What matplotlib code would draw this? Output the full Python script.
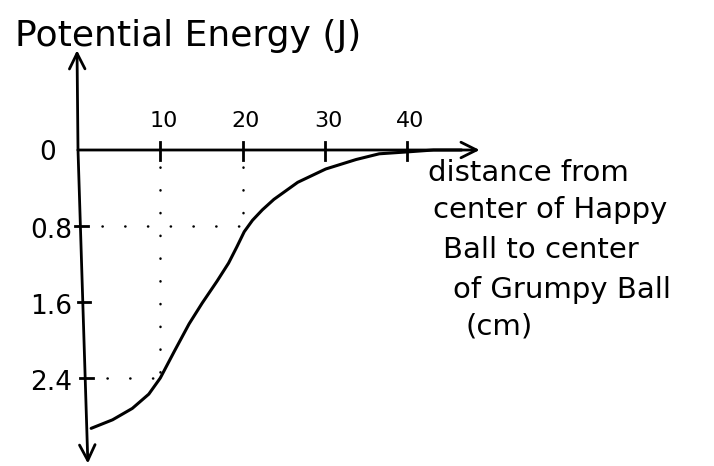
import numpy as np
import matplotlib
matplotlib.use("Agg")
import matplotlib.pyplot as plt

# Values (energy drawn downward, labels positive)
distance = [1.6, 4.2, 6.6, 8.6, 10, 11.7, 13.5, 15.1, 16.9, 18.3, 19.3, 20.2,
            21.2, 22.4, 23.8, 26.7, 30.1, 33.8, 36.6, 40, 43.2, 46.6]
energy = [2.93, 2.84, 2.72, 2.57, 2.4, 2.12, 1.83, 1.61, 1.38, 1.19, 1.02, 0.86,
          0.74, 0.63, 0.52, 0.34, 0.2, 0.1, 0.04, 0.02, 0.0, 0.0]
x_ticks = [10, 20, 30, 40]
y_ticks = [0.8, 1.6, 2.4]
y_ticklabels = ["0.8", "1.6", "2.4"]
guide_points = [(10, 2.4), (20, 0.8)]
xlabel_lines = ["distance from", "center of Happy", "Ball to center", "of Grumpy Ball", "(cm)"]
ylabel = "Potential Energy (J)"

W, H = 714, 466
px_x = 8.23  # pixels per cm
px_y = 95.0  # pixels per J
x0_px, y0_px = 78, 150

fig = plt.figure(figsize=(W / 100, H / 100), dpi=100)
ax = fig.add_axes([0, 0, 1, 1])
ax.set_xlim(-x0_px / px_x, (W - x0_px) / px_x)
ax.set_ylim((H - y0_px) / px_y, -y0_px / px_y)
ax.axis("off")

ink = "black"
lw = 2.0
arrow = dict(arrowstyle="->", color=ink, lw=lw, mutation_scale=28, shrinkA=0, shrinkB=0)


def axis_x(y):
    # the hand-drawn vertical axis leans a little to the right going down
    return 1.2 * y / 3.3


# axes with arrows
ax.annotate("", xy=(48.8, 0), xytext=(0, 0), arrowprops=arrow)
ax.annotate("", xy=(-0.12, -1.05), xytext=(0, 0), arrowprops=arrow)
ax.annotate("", xy=(axis_x(3.3), 3.3), xytext=(0, 0), arrowprops=arrow)

# tick marks and labels
for t in x_ticks:
    ax.plot([t, t], [-0.08, 0.1], color=ink, lw=lw)
    ax.text(t + 0.4, -0.31, str(t), fontsize=16, ha="center", va="center")
for t, lab in zip(y_ticks, y_ticklabels):
    ax.plot([axis_x(t) - 0.6, axis_x(t) + 0.9], [t, t], color=ink, lw=lw)
    ax.text(-0.7, t + 0.05, lab, fontsize=19, ha="right", va="center")
ax.text(-3.7, 0.03, "0", fontsize=19, ha="center", va="center")

# dotted guides
dots = dict(color=ink, lw=1.8, linestyle=(0, (0.1, 9)), dash_capstyle="round")
for gx, gy in guide_points:
    ax.plot([gx, gx], [0.18, gy], **dots)
    ax.plot([axis_x(gy) + 2.6, gx], [gy, gy], **dots)

# curve
ax.plot(distance, energy, color=ink, lw=2.2, solid_capstyle="round",
        solid_joinstyle="round")

# labels
ax.text(-63 / px_x, -1.2, ylabel, fontsize=26, ha="left", va="center")
line_y = [173, 210, 250, 290, 327]
line_x = [428, 433, 443, 453, 465]
for txt, lx, ly in zip(xlabel_lines, line_x, line_y):
    ax.text((lx - x0_px) / px_x, (ly - y0_px) / px_y, txt, fontsize=21,
            ha="left", va="center")

fig.savefig("out.png", dpi=100)
